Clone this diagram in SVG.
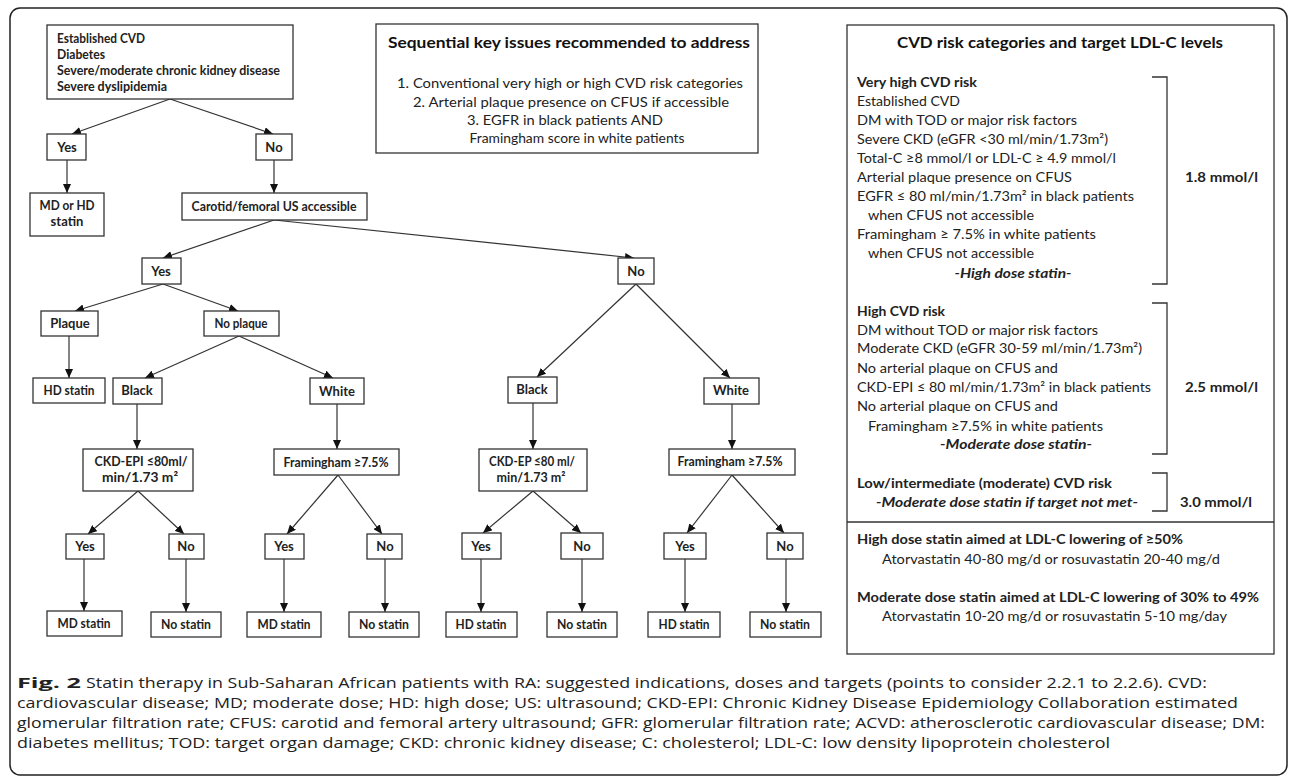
<svg xmlns="http://www.w3.org/2000/svg" width="1290" height="780" viewBox="0 0 1290 780">
<style>
.bg{fill:#fff}
.frame{fill:none;stroke:#222;stroke-width:1.5}
.box{fill:#fff;stroke:#333;stroke-width:1.3}
.nt{font-family:Lato,"Liberation Sans",sans-serif;font-weight:bold;font-size:13px;fill:#222;text-anchor:middle}
.lt{font-family:Lato,"Liberation Sans",sans-serif;font-weight:bold;font-size:13px;fill:#222}
.ttl{font-family:Lato,"Liberation Sans",sans-serif;font-weight:bold;font-size:16px;fill:#111;text-anchor:middle}
.pt{font-family:Lato,"Liberation Sans",sans-serif;font-size:14px;fill:#222}
.pc{font-family:Lato,"Liberation Sans",sans-serif;font-size:14px;fill:#222;text-anchor:middle}
.pb{font-family:Lato,"Liberation Sans",sans-serif;font-size:14px;font-weight:bold;fill:#222}
.pi{font-family:Lato,"Liberation Sans",sans-serif;font-size:14px;font-weight:bold;font-style:italic;fill:#222;text-anchor:middle}
.brk{fill:none;stroke:#333;stroke-width:1.3}
.con line{stroke:#333;stroke-width:1.2;marker-end:url(#ah)}
.cap{font-family:"Open Sans","Liberation Sans",sans-serif;font-size:14.5px;fill:#222}
.capb{font-family:"Open Sans","Liberation Sans",sans-serif;font-size:14.5px;font-weight:bold;fill:#222}
</style>
<defs>
<marker id="ah" markerUnits="userSpaceOnUse" markerWidth="9" markerHeight="8" refX="9" refY="4" orient="auto">
<path d="M0,0 L9,4 L0,8 z" fill="#111"/>
</marker>
</defs>
<rect class="bg" x="0" y="0" width="1290" height="780"/>
<rect class="frame" x="10" y="8" width="1277" height="767" rx="10" ry="10"/>

<g id="connectors" class="con">
<line x1="170" y1="99" x2="72" y2="134"/>
<line x1="170" y1="99" x2="273" y2="134"/>
<line x1="67" y1="160" x2="67" y2="193"/>
<line x1="274" y1="160" x2="274" y2="193"/>
<line x1="274" y1="220" x2="163" y2="258"/>
<line x1="274" y1="220" x2="634" y2="258"/>
<line x1="163" y1="284" x2="75" y2="311"/>
<line x1="163" y1="284" x2="238" y2="311"/>
<line x1="69" y1="336" x2="69" y2="378"/>
<line x1="239" y1="336" x2="145" y2="378"/>
<line x1="239" y1="336" x2="333" y2="378"/>
<line x1="137" y1="404" x2="137" y2="449"/>
<line x1="337" y1="404" x2="337" y2="449"/>
<line x1="138" y1="491" x2="88" y2="534"/>
<line x1="138" y1="491" x2="184" y2="534"/>
<line x1="84" y1="559" x2="84" y2="611"/>
<line x1="186" y1="559" x2="186" y2="612"/>
<line x1="338" y1="475" x2="287" y2="534"/>
<line x1="338" y1="475" x2="382" y2="534"/>
<line x1="284" y1="559" x2="284" y2="612"/>
<line x1="385" y1="559" x2="385" y2="612"/>
<line x1="636" y1="284" x2="537" y2="377"/>
<line x1="636" y1="284" x2="730" y2="378"/>
<line x1="533" y1="403" x2="533" y2="449"/>
<line x1="732" y1="404" x2="732" y2="449"/>
<line x1="533" y1="491" x2="483" y2="533"/>
<line x1="533" y1="491" x2="581" y2="533"/>
<line x1="481" y1="559" x2="481" y2="612"/>
<line x1="582" y1="559" x2="582" y2="612"/>
<line x1="732" y1="475" x2="687" y2="533"/>
<line x1="732" y1="475" x2="784" y2="533"/>
<line x1="685" y1="559" x2="685" y2="612"/>
<line x1="786" y1="559" x2="786" y2="612"/>
</g>

<g id="n_top"><rect class="box" x="47" y="25" width="246" height="74"/>
<text class="lt" x="57" y="43" textLength="88" lengthAdjust="spacingAndGlyphs">Established CVD</text>
<text class="lt" x="57" y="59" textLength="48" lengthAdjust="spacingAndGlyphs">Diabetes</text>
<text class="lt" x="57" y="75" textLength="223" lengthAdjust="spacingAndGlyphs">Severe/moderate chronic kidney disease</text>
<text class="lt" x="57" y="91" textLength="110" lengthAdjust="spacingAndGlyphs">Severe dyslipidemia</text></g>
<g id="n_yes1"><rect class="box" x="47" y="134" width="39" height="26"/><text class="nt" x="67" y="152">Yes</text></g>
<g id="n_no1"><rect class="box" x="256" y="134" width="36" height="26"/><text class="nt" x="274" y="152">No</text></g>
<g id="n_mdhd"><rect class="box" x="30" y="193" width="74" height="43"/><text class="nt" x="67" y="210" textLength="55" lengthAdjust="spacingAndGlyphs">MD or HD</text><text class="nt" x="67" y="226">statin</text></g>
<g id="n_carotid"><rect class="box" x="182" y="193" width="185" height="27"/><text class="nt" x="274" y="211" textLength="165" lengthAdjust="spacingAndGlyphs">Carotid/femoral US accessible</text></g>
<g id="n_yes2"><rect class="box" x="142" y="258" width="39" height="26"/><text class="nt" x="161" y="276">Yes</text></g>
<g id="n_no2"><rect class="box" x="618" y="258" width="36" height="26"/><text class="nt" x="636" y="276">No</text></g>
<g id="n_plaque"><rect class="box" x="41" y="311" width="57" height="25"/><text class="nt" x="70" y="328">Plaque</text></g>
<g id="n_noplaque"><rect class="box" x="204" y="311" width="75" height="25"/><text class="nt" x="241" y="328" textLength="53" lengthAdjust="spacingAndGlyphs">No plaque</text></g>
<g id="n_hd1"><rect class="box" x="33" y="378" width="72" height="25"/><text class="nt" x="69" y="395" textLength="51" lengthAdjust="spacingAndGlyphs">HD statin</text></g>
<g id="n_black1"><rect class="box" x="113" y="378" width="49" height="26"/><text class="nt" x="137" y="395">Black</text></g>
<g id="n_white1"><rect class="box" x="310" y="378" width="54" height="26"/><text class="nt" x="337" y="396">White</text></g>
<g id="n_ckd1"><rect class="box" x="83" y="449" width="110" height="42"/><text class="nt" x="141" y="466" textLength="93" lengthAdjust="spacingAndGlyphs">CKD-EPI ≤80ml/</text><text class="nt" x="140" y="482" textLength="76" lengthAdjust="spacingAndGlyphs">min/1.73 m²</text></g>
<g id="n_fram1"><rect class="box" x="274" y="449" width="125" height="26"/><text class="nt" x="336" y="467" textLength="105" lengthAdjust="spacingAndGlyphs">Framingham ≥7.5%</text></g>
<g id="n_yes3"><rect class="box" x="66" y="534" width="38" height="25"/><text class="nt" x="85" y="551">Yes</text></g>
<g id="n_no3"><rect class="box" x="169" y="534" width="35" height="25"/><text class="nt" x="186" y="551">No</text></g>
<g id="n_md1"><rect class="box" x="47" y="611" width="75" height="25"/><text class="nt" x="84" y="628" textLength="53" lengthAdjust="spacingAndGlyphs">MD statin</text></g>
<g id="n_nost1"><rect class="box" x="151" y="612" width="70" height="25"/><text class="nt" x="186" y="629" textLength="50" lengthAdjust="spacingAndGlyphs">No statin</text></g>
<g id="n_yes4"><rect class="box" x="265" y="534" width="39" height="25"/><text class="nt" x="284" y="551">Yes</text></g>
<g id="n_no4"><rect class="box" x="367" y="534" width="35" height="25"/><text class="nt" x="385" y="551">No</text></g>
<g id="n_md2"><rect class="box" x="247" y="612" width="74" height="25"/><text class="nt" x="284" y="629" textLength="53" lengthAdjust="spacingAndGlyphs">MD statin</text></g>
<g id="n_nost2"><rect class="box" x="349" y="612" width="70" height="25"/><text class="nt" x="384" y="629" textLength="50" lengthAdjust="spacingAndGlyphs">No statin</text></g>
<g id="n_black2"><rect class="box" x="508" y="377" width="49" height="26"/><text class="nt" x="532" y="394">Black</text></g>
<g id="n_white2"><rect class="box" x="704" y="378" width="55" height="26"/><text class="nt" x="731" y="395">White</text></g>
<g id="n_ckd2"><rect class="box" x="479" y="449" width="108" height="42"/><text class="nt" x="532" y="466" textLength="86" lengthAdjust="spacingAndGlyphs">CKD-EP ≤80 ml/</text><text class="nt" x="531" y="482" textLength="69" lengthAdjust="spacingAndGlyphs">min/1.73 m²</text></g>
<g id="n_fram2"><rect class="box" x="669" y="449" width="126" height="26"/><text class="nt" x="730" y="466" textLength="105" lengthAdjust="spacingAndGlyphs">Framingham ≥7.5%</text></g>
<g id="n_yes5"><rect class="box" x="462" y="533" width="39" height="26"/><text class="nt" x="481" y="551">Yes</text></g>
<g id="n_no5"><rect class="box" x="561" y="533" width="42" height="26"/><text class="nt" x="582" y="551">No</text></g>
<g id="n_hd2"><rect class="box" x="446" y="612" width="71" height="25"/><text class="nt" x="481" y="629" textLength="51" lengthAdjust="spacingAndGlyphs">HD statin</text></g>
<g id="n_nost3"><rect class="box" x="547" y="612" width="70" height="25"/><text class="nt" x="582" y="629" textLength="50" lengthAdjust="spacingAndGlyphs">No statin</text></g>
<g id="n_yes6"><rect class="box" x="664" y="533" width="42" height="26"/><text class="nt" x="685" y="551">Yes</text></g>
<g id="n_no6"><rect class="box" x="767" y="533" width="36" height="26"/><text class="nt" x="785" y="551">No</text></g>
<g id="n_hd3"><rect class="box" x="648" y="612" width="72" height="25"/><text class="nt" x="684" y="629" textLength="51" lengthAdjust="spacingAndGlyphs">HD statin</text></g>
<g id="n_nost4"><rect class="box" x="750" y="612" width="71" height="25"/><text class="nt" x="785" y="629" textLength="50" lengthAdjust="spacingAndGlyphs">No statin</text></g>

<g id="n_sequential"><rect class="box" x="376" y="24" width="382" height="129"/>
<text class="ttl" x="569" y="48" textLength="362" lengthAdjust="spacingAndGlyphs">Sequential key issues recommended to address</text>
<text class="pc" x="570" y="88" textLength="346" lengthAdjust="spacingAndGlyphs">1.  Conventional very high or high CVD risk categories</text>
<text class="pc" x="571" y="107" textLength="316" lengthAdjust="spacingAndGlyphs">2.  Arterial plaque presence on CFUS if accessible</text>
<text class="pc" x="565" y="125" textLength="196" lengthAdjust="spacingAndGlyphs">3. EGFR in black patients AND</text>
<text class="pc" x="577" y="143" textLength="215" lengthAdjust="spacingAndGlyphs">Framingham score in white patients</text></g>

<g id="n_categories"><rect class="box" x="847" y="25" width="427" height="629"/>
<line x1="847" y1="522" x2="1274" y2="522" stroke="#333" stroke-width="1.3"/>
<text class="ttl" x="1060" y="48" textLength="326" lengthAdjust="spacingAndGlyphs">CVD risk categories and target LDL-C levels</text>
<text class="pb" x="857" y="87" textLength="120" lengthAdjust="spacingAndGlyphs">Very high CVD risk</text>
<text class="pt" x="857" y="106" textLength="103" lengthAdjust="spacingAndGlyphs">Established CVD</text>
<text class="pt" x="857" y="125" textLength="220" lengthAdjust="spacingAndGlyphs">DM with TOD or major risk factors</text>
<text class="pt" x="857" y="144" textLength="251" lengthAdjust="spacingAndGlyphs">Severe CKD (eGFR &lt;30 ml/min/1.73m²)</text>
<text class="pt" x="857" y="163" textLength="259" lengthAdjust="spacingAndGlyphs">Total-C ≥8 mmol/l or LDL-C ≥ 4.9 mmol/l</text>
<text class="pt" x="857" y="182" textLength="215" lengthAdjust="spacingAndGlyphs">Arterial plaque presence on CFUS</text>
<text class="pt" x="857" y="201" textLength="277" lengthAdjust="spacingAndGlyphs">EGFR ≤ 80 ml/min/1.73m² in black patients</text>
<text class="pt" x="868" y="220" textLength="166" lengthAdjust="spacingAndGlyphs">when CFUS not accessible</text>
<text class="pt" x="857" y="239" textLength="239" lengthAdjust="spacingAndGlyphs">Framingham ≥ 7.5% in white patients</text>
<text class="pt" x="868" y="258" textLength="166" lengthAdjust="spacingAndGlyphs">when CFUS not accessible</text>
<text class="pi" x="1013" y="278" textLength="117" lengthAdjust="spacingAndGlyphs">-High dose statin-</text>
<text class="pb" x="857" y="316" textLength="88" lengthAdjust="spacingAndGlyphs">High CVD risk</text>
<text class="pt" x="857" y="335" textLength="241" lengthAdjust="spacingAndGlyphs">DM without TOD or major risk factors</text>
<text class="pt" x="857" y="353" textLength="285" lengthAdjust="spacingAndGlyphs">Moderate CKD (eGFR 30-59 ml/min/1.73m²)</text>
<text class="pt" x="857" y="373" textLength="201" lengthAdjust="spacingAndGlyphs">No arterial plaque on CFUS and</text>
<text class="pt" x="857" y="392" textLength="294" lengthAdjust="spacingAndGlyphs">CKD-EPI ≤ 80 ml/min/1.73m² in black patients</text>
<text class="pt" x="857" y="411" textLength="201" lengthAdjust="spacingAndGlyphs">No arterial plaque on CFUS and</text>
<text class="pt" x="868" y="431" textLength="235" lengthAdjust="spacingAndGlyphs">Framingham ≥7.5% in white patients</text>
<text class="pi" x="1016" y="449" textLength="152" lengthAdjust="spacingAndGlyphs">-Moderate dose statin-</text>
<text class="pb" x="857" y="488" textLength="255" lengthAdjust="spacingAndGlyphs">Low/intermediate (moderate) CVD risk</text>
<text class="pi" x="1007" y="507" textLength="262" lengthAdjust="spacingAndGlyphs">-Moderate dose statin if target not met-</text>
<path class="brk" d="M1152,77 H1167 V284 H1152"/>
<path class="brk" d="M1152,303 H1167 V454 H1152"/>
<path class="brk" d="M1152,473 H1167 V511 H1152"/>
<text class="pb" x="1185" y="182" textLength="73" lengthAdjust="spacingAndGlyphs">1.8 mmol/l</text>
<text class="pb" x="1185" y="392" textLength="73" lengthAdjust="spacingAndGlyphs">2.5 mmol/l</text>
<text class="pb" x="1180" y="507" textLength="72" lengthAdjust="spacingAndGlyphs">3.0 mmol/l</text>
<text class="pb" x="857" y="544" textLength="326" lengthAdjust="spacingAndGlyphs">High dose statin aimed at LDL-C lowering of ≥50%</text>
<text class="pt" x="882" y="564" textLength="338" lengthAdjust="spacingAndGlyphs">Atorvastatin 40-80 mg/d or rosuvastatin 20-40 mg/d</text>
<text class="pb" x="857" y="602" textLength="402" lengthAdjust="spacingAndGlyphs">Moderate dose statin aimed at LDL-C lowering of 30% to 49%</text>
<text class="pt" x="882" y="621" textLength="345" lengthAdjust="spacingAndGlyphs">Atorvastatin 10-20 mg/d or rosuvastatin 5-10 mg/day</text></g>

<g id="caption">
<text class="capb" x="17" y="688" textLength="64" lengthAdjust="spacingAndGlyphs">Fig. 2</text>
<text class="cap" x="86" y="688" textLength="1121" lengthAdjust="spacingAndGlyphs">Statin therapy in Sub-Saharan African patients with RA: suggested indications, doses and targets (points to consider 2.2.1 to 2.2.6). CVD:</text>
<text class="cap" x="17" y="708" textLength="1221" lengthAdjust="spacingAndGlyphs">cardiovascular disease; MD; moderate dose; HD: high dose; US: ultrasound; CKD-EPI: Chronic Kidney Disease Epidemiology Collaboration estimated</text>
<text class="cap" x="17" y="728" textLength="1248" lengthAdjust="spacingAndGlyphs">glomerular filtration rate; CFUS: carotid and femoral artery ultrasound; GFR: glomerular filtration rate; ACVD: atherosclerotic cardiovascular disease; DM:</text>
<text class="cap" x="17" y="748" textLength="1093" lengthAdjust="spacingAndGlyphs">diabetes mellitus; TOD: target organ damage; CKD: chronic kidney disease; C: cholesterol; LDL-C: low density lipoprotein cholesterol</text>
</g>
</svg>
